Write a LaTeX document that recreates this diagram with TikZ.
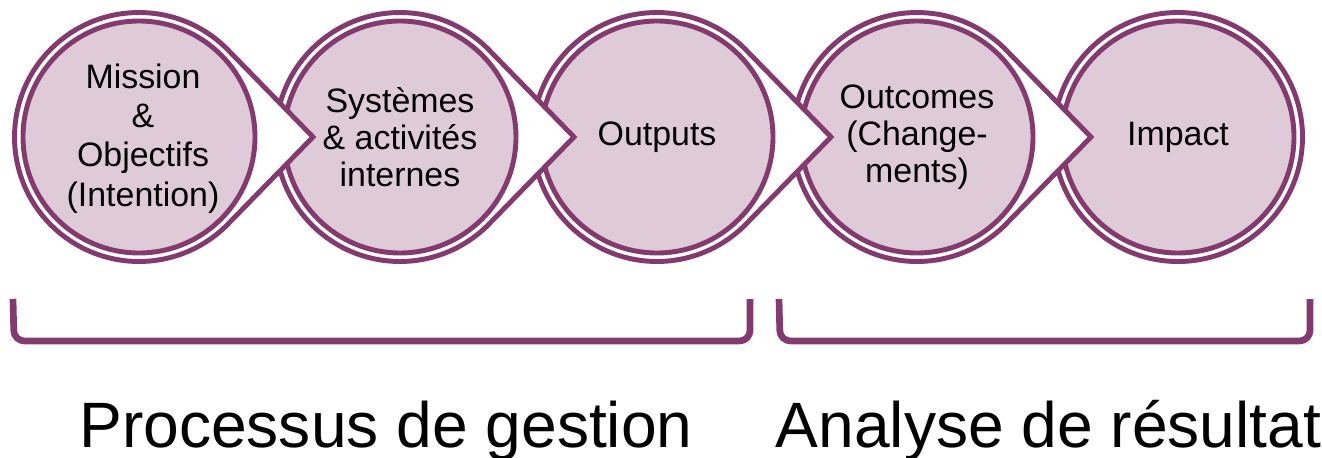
\documentclass[tikz,border=0pt]{standalone}
\usepackage{fontspec}
\setmainfont{Liberation Sans}
\usepackage{tikz}
\usepackage{xcolor}
\usetikzlibrary{positioning, calc}

\definecolor{plum}{HTML}{833B6F}
\definecolor{lilac}{HTML}{DFCBD8}

\begin{document}
\begin{tikzpicture}[
  ring/.style={draw=plum, fill=white, line width=2.8pt, line join=miter},
  disc/.style={circle, draw=plum, fill=lilac, line width=2.8pt, minimum size=4.64cm, inner sep=0pt, align=center, font=\fontsize{19.3}{21}\selectfont},
  bracket/.style={draw=plum, line width=3.8pt, rounded corners=6pt},
  group/.style={anchor=base, font=\fontsize{36.5}{40}\selectfont}
]
\useasboundingbox (0,0) rectangle (26.44,9.14);

% Centres of the five stages
\coordinate (p1) at (2.78, 6.4);
\coordinate (p2) at (8.00, 6.4);
\coordinate (p3) at (13.14, 6.4);
\coordinate (p4) at (18.34, 6.4);
\coordinate (p5) at (23.56, 6.4);

% Impact (last stage, no arrow)
\draw[ring] (p5) circle[radius=2.49cm];
\node[disc] (impact) at (p5) {Impact};

% Outcomes
\draw[ring] (p4) ++(44.3:2.49) arc[start angle=44.3, end angle=315.7, radius=2.49cm] -- ($(p4)+(3.48,0)$) -- cycle;
\node[disc] (outcomes) at (p4) {Outcomes\\(Change-\\ments)};

% Outputs
\draw[ring] (p3) ++(44.3:2.49) arc[start angle=44.3, end angle=315.7, radius=2.49cm] -- ($(p3)+(3.48,0)$) -- cycle;
\node[disc] (outputs) at (p3) {Outputs};

% Systemes & activites internes
\draw[ring] (p2) ++(44.3:2.49) arc[start angle=44.3, end angle=315.7, radius=2.49cm] -- ($(p2)+(3.48,0)$) -- cycle;
\node[disc] (systemes) at (p2) {Systèmes\\\& activités\\internes};

% Mission & objectifs
\draw[ring] (p1) ++(44.3:2.49) arc[start angle=44.3, end angle=315.7, radius=2.49cm] -- ($(p1)+(3.48,0)$) -- cycle;
\node[disc] (mission) at (p1) {};
\node[align=center, font=\fontsize{19.3}{22.4}\selectfont] (missiontxt) at ($(mission)+(0.08,-0.03)$) {Mission\\\&\\Objectifs\\(Intention)};

% Brackets
\coordinate (gestionL) at (0.26, 3.16);
\coordinate (gestionR) at (15.00, 3.16);
\coordinate (analyseL) at (15.58, 3.16);
\coordinate (analyseR) at (26.20, 3.16);
\draw[bracket] (gestionL) -- ++(0.02,-0.84) -| (gestionR);
\draw[bracket] (analyseL) -- ++(0.02,-0.84) -| (analyseR);

% Labels
\node[group] (gestion) at (7.72, 0.2) {Processus de gestion};
\node[group] (analyse) at (20.97, 0.2) {Analyse de résultat};

\end{tikzpicture}
\end{document}
